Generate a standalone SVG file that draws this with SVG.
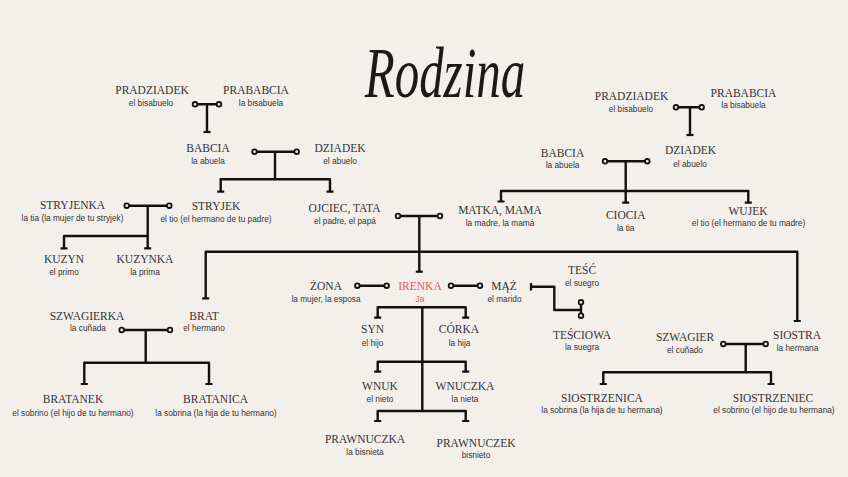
<svg xmlns="http://www.w3.org/2000/svg" width="848" height="477" viewBox="0 0 848 477">
<style>
.t{font-family:"Liberation Serif","Times New Roman",serif;font-size:11.5px;fill:#333;text-anchor:middle}
.s{font-family:"Liberation Sans",Arial,sans-serif;font-size:8.3px;fill:#333;text-anchor:middle}
.me{fill:#e85a60}
.ln{stroke:#111;stroke-width:2.4;fill:none;stroke-linejoin:round}
.tk{stroke:#111;stroke-width:2.2;fill:none}
.c{fill:#f3f0ec;stroke:#111;stroke-width:1.8}
.ttl{font-family:"Liberation Serif","Times New Roman",serif;font-style:italic;font-size:49px;fill:#1a1a1a;text-anchor:middle}
</style>
<rect width="848" height="477" fill="#f3f0ec"/>
<text class="ttl" x="0" y="0" transform="translate(445,97) scale(1,1.45)">Rodzina</text>

<g id="connectors">
  <!-- left great-grandparents -->
  <path class="ln" d="M195,104.3H219M207,104.3V132"/>
  <path class="tk" d="M203.5,132H210.5"/>
  <!-- left grandparents -->
  <path class="ln" d="M254.5,151.7H296.7M275,151.7V179.3M220.7,191.7V179.3H330V191.7"/>
  <path class="tk" d="M217.2,191.7H224.2M326.5,191.7H333.5"/>
  <!-- stryjenka & stryjek -->
  <path class="ln" d="M126.7,205.7H169.3M147.7,205.7V248.3M64,248.3V236H147.7"/>
  <path class="tk" d="M60.5,248.3H67.5M144.2,248.3H151.2"/>
  <!-- parents -->
  <path class="ln" d="M398,216H440M419.3,216V271.7"/>
  <path class="tk" d="M415.8,271.7H422.8"/>
  <!-- siblings line -->
  <path class="ln" d="M205.7,298.3V251.7H797.3V321"/>
  <path class="tk" d="M202.2,298.3H209.2M793.8,321H800.8"/>
  <!-- szwagierka & brat -->
  <path class="ln" d="M121.7,330H170M145.7,330V362.7M84.3,384V362.7H209V384"/>
  <path class="tk" d="M80.8,384H87.8M205.5,384H212.5"/>
  <!-- right great-grandparents -->
  <path class="ln" d="M676,107.3H701.7M690,107.3V135"/>
  <path class="tk" d="M686.5,135H693.5"/>
  <!-- right grandparents -->
  <path class="ln" d="M605,161.3H647.3M625.7,161.3V202.7M501,201.5V191H748.3V202.7"/>
  <path class="tk" d="M497.5,201.5H504.5M622.2,202.7H629.2M744.8,202.7H751.8"/>
  <!-- zona, maz -->
  <path class="ln" d="M357.3,285.7H386.7M451,285.7H480"/>
  <!-- tesc / tesciowa -->
  <path class="ln" d="M531,286.7H554.3V310H581M581,302.3V315.7"/>
  <path class="tk" d="M531,283V290.5"/>
  <!-- children line -->
  <path class="ln" d="M422.3,307.3V410.7M377.7,317.7V307.3H465.7V317.7M377.7,371.7V361.7H465.7V371.7M377.7,421V411H465.7V421"/>
  <path class="tk" d="M374.2,317.7H381.2M462.2,317.7H469.2M374.2,371.7H381.2M462.2,371.7H469.2M374.2,421H381.2M462.2,421H469.2"/>
  <!-- szwagier & siostra -->
  <path class="ln" d="M723.3,344H765.7M745.7,344V372.3M603.3,384V372.3H771V384"/>
  <path class="tk" d="M599.8,384H606.8M767.5,384H774.5"/>
  <!-- couple circles -->
  <circle class="c" cx="195" cy="104.3" r="2.3"/><circle class="c" cx="219" cy="104.3" r="2.3"/>
  <circle class="c" cx="254.5" cy="151.7" r="2.3"/><circle class="c" cx="296.7" cy="151.7" r="2.3"/>
  <circle class="c" cx="126.7" cy="205.7" r="2.3"/><circle class="c" cx="169.3" cy="205.7" r="2.3"/>
  <circle class="c" cx="398" cy="216" r="2.3"/><circle class="c" cx="440" cy="216" r="2.3"/>
  <circle class="c" cx="121.7" cy="330" r="2.3"/><circle class="c" cx="170" cy="330" r="2.3"/>
  <circle class="c" cx="676" cy="107.3" r="2.3"/><circle class="c" cx="701.7" cy="107.3" r="2.3"/>
  <circle class="c" cx="605" cy="161.3" r="2.3"/><circle class="c" cx="647.3" cy="161.3" r="2.3"/>
  <circle class="c" cx="357.3" cy="285.7" r="2.3"/><circle class="c" cx="386.7" cy="285.7" r="2.3"/>
  <circle class="c" cx="451" cy="285.7" r="2.3"/><circle class="c" cx="480" cy="285.7" r="2.3"/>
  <circle class="c" cx="581" cy="302.3" r="2.3"/><circle class="c" cx="581" cy="315.7" r="2.3"/>
  <circle class="c" cx="723.3" cy="344" r="2.3"/><circle class="c" cx="765.7" cy="344" r="2.3"/>
</g>

<g id="pradziadek-l"><text class="t" x="152" y="94">PRADZIADEK</text><text class="s" x="151" y="106">el bisabuelo</text></g>
<g id="prababcia-l"><text class="t" x="256" y="94">PRABABCIA</text><text class="s" x="261" y="106">la bisabuela</text></g>
<g id="babcia-l"><text class="t" x="208" y="152">BABCIA</text><text class="s" x="208" y="164">la abuela</text></g>
<g id="dziadek-l"><text class="t" x="340" y="152">DZIADEK</text><text class="s" x="340" y="164">el abuelo</text></g>
<g id="stryjenka"><text class="t" x="72.5" y="209">STRYJENKA</text><text class="s" x="72.5" y="221">la tia (la mujer de tu stryjek)</text></g>
<g id="stryjek"><text class="t" x="216" y="210">STRYJEK</text><text class="s" x="216" y="222">el tio (el hermano de tu padre)</text></g>
<g id="ojciec"><text class="t" x="344.5" y="212">OJCIEC, TATA</text><text class="s" x="345" y="224">el padre, el papá</text></g>
<g id="kuzyn"><text class="t" x="64" y="263.3">KUZYN</text><text class="s" x="64" y="275">el primo</text></g>
<g id="kuzynka"><text class="t" x="145" y="263.3">KUZYNKA</text><text class="s" x="145" y="275">la prima</text></g>
<g id="szwagierka"><text class="t" x="87" y="320">SZWAGIERKA</text><text class="s" x="88" y="331">la cuñada</text></g>
<g id="brat"><text class="t" x="204" y="320">BRAT</text><text class="s" x="204" y="331">el hermano</text></g>
<g id="bratanek"><text class="t" x="73" y="403.3">BRATANEK</text><text class="s" x="73" y="416">el sobrino (el hijo de tu hermano)</text></g>
<g id="bratanica"><text class="t" x="215.5" y="403.3">BRATANICA</text><text class="s" x="216" y="416">la sobrina (la hija de tu hermano)</text></g>
<g id="zona"><text class="t" x="326" y="290">ŻONA</text><text class="s" x="326" y="301.7">la mujer, la esposa</text></g>
<g id="irenka"><text class="t me" x="420" y="290">IRENKA</text><text class="s me" x="420" y="301.7">Ja</text></g>
<g id="maz"><text class="t" x="504" y="290">MĄŻ</text><text class="s" x="504.5" y="301.7">el marido</text></g>
<g id="tesc"><text class="t" x="582" y="274">TEŚĆ</text><text class="s" x="582" y="286">el suegro</text></g>
<g id="tesciowa"><text class="t" x="582" y="339">TEŚCIOWA</text><text class="s" x="582" y="350">la suegra</text></g>
<g id="syn"><text class="t" x="372.5" y="333.3">SYN</text><text class="s" x="372.5" y="345.7">el hijo</text></g>
<g id="corka"><text class="t" x="459" y="333.3">CÓRKA</text><text class="s" x="459.5" y="345.7">la hija</text></g>
<g id="wnuk"><text class="t" x="380" y="390">WNUK</text><text class="s" x="380" y="401.7">el nieto</text></g>
<g id="wnuczka"><text class="t" x="465" y="390">WNUCZKA</text><text class="s" x="465" y="401.7">la nieta</text></g>
<g id="prawnuczka"><text class="t" x="365" y="443.3">PRAWNUCZKA</text><text class="s" x="365" y="455">la bisnieta</text></g>
<g id="prawnuczek"><text class="t" x="476" y="446.7">PRAWNUCZEK</text><text class="s" x="476" y="457.7">bisnieto</text></g>
<g id="matka"><text class="t" x="500" y="214">MATKA, MAMA</text><text class="s" x="500" y="226">la madre, la mamá</text></g>
<g id="pradziadek-r"><text class="t" x="631.5" y="100">PRADZIADEK</text><text class="s" x="631" y="112.3">el bisabuelo</text></g>
<g id="prababcia-r"><text class="t" x="743.5" y="96.7">PRABABCIA</text><text class="s" x="743.5" y="108.3">la bisabuela</text></g>
<g id="babcia-r"><text class="t" x="562.5" y="156.7">BABCIA</text><text class="s" x="562.5" y="168.3">la abuela</text></g>
<g id="dziadek-r"><text class="t" x="690.5" y="154">DZIADEK</text><text class="s" x="690" y="166.7">el abuelo</text></g>
<g id="ciocia"><text class="t" x="625.7" y="219.3">CIOCIA</text><text class="s" x="625.7" y="230.7">la tia</text></g>
<g id="wujek"><text class="t" x="748" y="215">WUJEK</text><text class="s" x="748.5" y="226">el tio (el hermano de tu madre)</text></g>
<g id="szwagier"><text class="t" x="685" y="340.7">SZWAGIER</text><text class="s" x="685" y="352.7">el cuñado</text></g>
<g id="siostra"><text class="t" x="797" y="339">SIOSTRA</text><text class="s" x="797.5" y="351">la hermana</text></g>
<g id="siostrzenica"><text class="t" x="602" y="401.7">SIOSTRZENICA</text><text class="s" x="602" y="413.3">la sobrina (la hija de tu hermana)</text></g>
<g id="siostrzeniec"><text class="t" x="773" y="401.7">SIOSTRZENIEC</text><text class="s" x="774" y="413.3">el sobrino (el hijo de tu hermana)</text></g>
</svg>
